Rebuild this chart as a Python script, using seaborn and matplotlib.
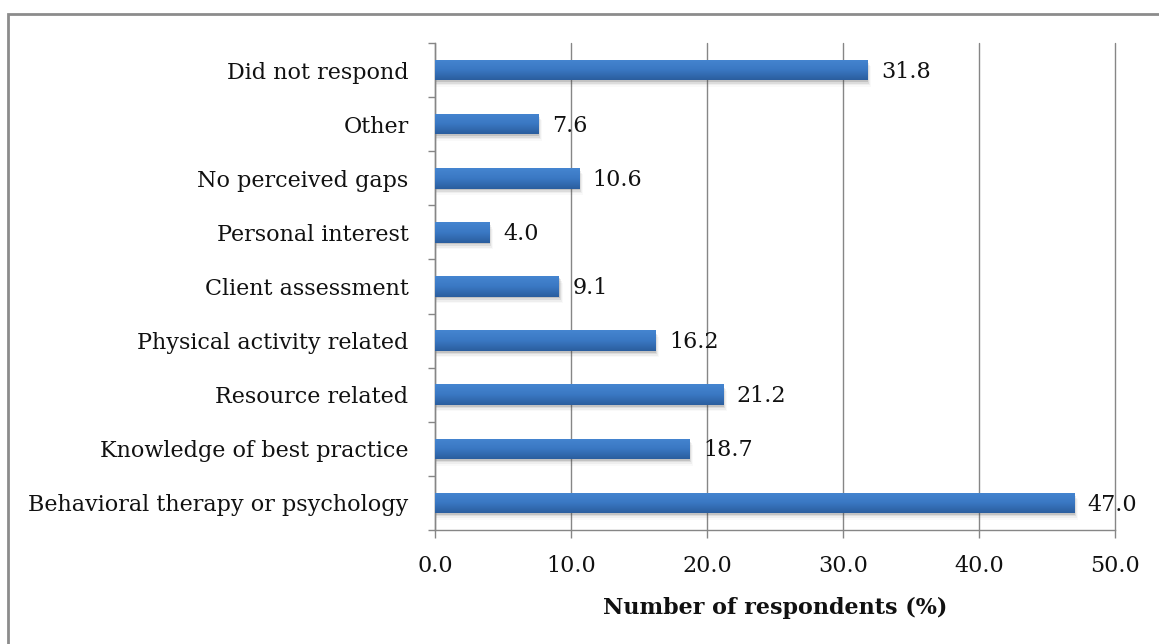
import numpy as np
import pandas as pd
import matplotlib
matplotlib.use("Agg")
import matplotlib.pyplot as plt
import seaborn as sns
from matplotlib.patches import Rectangle
from matplotlib.colors import LinearSegmentedColormap

categories = [
    "Did not respond",
    "Other",
    "No perceived gaps",
    "Personal interest",
    "Client assessment",
    "Physical activity related",
    "Resource related",
    "Knowledge of best practice",
    "Behavioral therapy or psychology",
]
percentages = [31.8, 7.6, 10.6, 4.0, 9.1, 16.2, 21.2, 18.7, 47.0]
x_ticks = [0, 10, 20, 30, 40, 50]
x_label = "Number of respondents (%)"

df = pd.DataFrame({"category": categories, "pct": percentages})

sns.set_theme(style="white")
plt.rcParams["font.family"] = ["DejaVu Serif"]

fig = plt.figure(figsize=(11.59, 6.44), dpi=100)
ax = fig.add_axes([435 / 1159, 1 - 530 / 644, 680 / 1159, 487 / 644])

sns.barplot(data=df, x="pct", y="category", orient="h", color="#3A76C0",
            width=0.38, ax=ax, zorder=3)

# gradient fill (light on top, darker at the bottom) and a soft drop shadow
grad = LinearSegmentedColormap.from_list("bar", ["#4585D0", "#3A78C3", "#2B5E9E"])
gimg = np.linspace(0, 1, 64).reshape(-1, 1)
for p in list(ax.patches):
    x0, y0 = p.get_x(), p.get_y()
    w, h = p.get_width(), p.get_height()
    for k, a in enumerate([0.16, 0.10, 0.06, 0.03]):
        off = 0.03 * (k + 1)
        ax.add_patch(Rectangle((x0, y0 + off), w + 0.07 * (k + 1), h, facecolor="#444444",
                               edgecolor="none", alpha=a, zorder=2))
    p.set_facecolor("none")
    p.set_edgecolor("none")
    # y axis is inverted, so extent top is y0 (visually upper edge)
    im = ax.imshow(gimg, cmap=grad, aspect="auto", extent=(x0, x0 + w, y0 + h, y0),
                   origin="upper", zorder=4, interpolation="bilinear")
    im.set_clip_path(p)

for i, v in enumerate(percentages):
    ax.text(v + 1.0, i + 0.03, f"{v:.1f}", va="center", ha="left", fontsize=16,
            color="#111111", zorder=5)

ax.set_xlim(0, 50)
ax.set_ylim(len(categories) - 0.5, -0.5)
ax.set_xticks(x_ticks)
ax.set_xticklabels([f"{t:.1f}" for t in x_ticks])
ax.set_yticks(range(len(categories)))
ax.set_yticks(np.arange(-0.5, len(categories), 1.0), minor=True)
ax.tick_params(axis="y", which="major", length=0, pad=19, labelsize=16, labelcolor="#111111")
ax.tick_params(axis="y", which="minor", length=5, width=1, color="#868686", direction="out", left=True)
ax.tick_params(axis="x", which="major", length=6, width=1, color="#868686", direction="out",
               bottom=True, pad=12, labelsize=16, labelcolor="#111111")
ax.grid(axis="x", color="#868686", linewidth=1, zorder=0)
for gl in ax.get_xgridlines():
    gl.set_clip_on(False)
ax.set_axisbelow(True)
for s in ["top", "right"]:
    ax.spines[s].set_visible(False)
for s in ["left", "bottom"]:
    ax.spines[s].set_color("#868686")
    ax.spines[s].set_linewidth(1)
ax.set_ylabel("")
ax.set_xlabel(x_label, fontsize=16, fontweight="bold", labelpad=14, color="#111111")

# outer chart-area frame
fig.add_artist(Rectangle((8 / 1159, -0.1), 1.2, 1 - 14 / 644 + 0.1, transform=fig.transFigure,
                         facecolor="none", edgecolor="#8C8C8C", linewidth=2))

fig.savefig("out.png", dpi=100)
